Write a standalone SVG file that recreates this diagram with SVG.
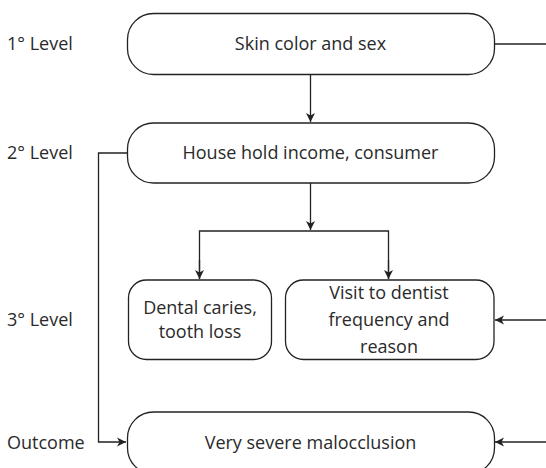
<svg xmlns="http://www.w3.org/2000/svg" width="546" height="468" viewBox="0 0 546 468">
<defs>
<style>
.box{fill:#fff;stroke:#222;stroke-width:1.3}
.ln{fill:none;stroke:#222;stroke-width:1.3}
.t{font-family:"Open Sans",Lato,sans-serif;font-size:18px;fill:#2a2a2a;text-anchor:middle}
.lb{font-family:"Open Sans",Lato,sans-serif;font-size:18px;fill:#2a2a2a}
</style>
<marker id="ah" markerWidth="10" markerHeight="10" refX="9" refY="5" orient="auto" markerUnits="userSpaceOnUse">
<path d="M0,0.5 L9,5 L0,9.5 L2.5,5 Z" fill="#222"/>
</marker>
</defs>
<rect width="546" height="468" fill="#fff"/>
<g id="labels">
<text class="lb" x="7" y="50">1° Level</text>
<text class="lb" x="7" y="159">2° Level</text>
<text class="lb" x="7" y="326">3° Level</text>
<text class="lb" x="7" y="449">Outcome</text>
</g>
<g id="connectors">
<line class="ln" x1="494" y1="44" x2="546" y2="44"/>
<line class="ln" x1="310.5" y1="74" x2="310.5" y2="122" marker-end="url(#ah)"/>
<line class="ln" x1="310.5" y1="183" x2="310.5" y2="230" marker-end="url(#ah)"/>
<polyline class="ln" points="199.5,279 199.5,231 388.5,231 388.5,279"/>
<line class="ln" x1="199.5" y1="260" x2="199.5" y2="279" marker-end="url(#ah)"/>
<line class="ln" x1="388.5" y1="260" x2="388.5" y2="279" marker-end="url(#ah)"/>
<polyline class="ln" points="127,153 98.5,153 98.5,442 126,442" marker-end="url(#ah)"/>
<line class="ln" x1="546" y1="320" x2="495" y2="320" marker-end="url(#ah)"/>
<line class="ln" x1="546" y1="442" x2="495" y2="442" marker-end="url(#ah)"/>
</g>
<g id="n1">
<rect class="box" x="127.5" y="13.5" width="367" height="61" rx="26"/>
<text class="t" x="310.5" y="50">Skin color and sex</text>
</g>
<g id="n2">
<rect class="box" x="127.5" y="123" width="367" height="60" rx="26"/>
<text class="t" x="310.5" y="159">House hold income, consumer</text>
</g>
<g id="n3a">
<rect class="box" x="128.5" y="280" width="143" height="79.5" rx="18"/>
<text class="t" x="200" y="314">Dental caries,</text>
<text class="t" x="200" y="338">tooth loss</text>
</g>
<g id="n3b">
<rect class="box" x="285.5" y="280" width="208.5" height="79.5" rx="18"/>
<text class="t" x="389" y="299">Visit to dentist</text>
<text class="t" x="389" y="326">frequency and</text>
<text class="t" x="389" y="353">reason</text>
</g>
<g id="n4">
<rect class="box" x="127.5" y="412" width="367" height="62" rx="26"/>
<text class="t" x="310.5" y="449">Very severe malocclusion</text>
</g>
</svg>
